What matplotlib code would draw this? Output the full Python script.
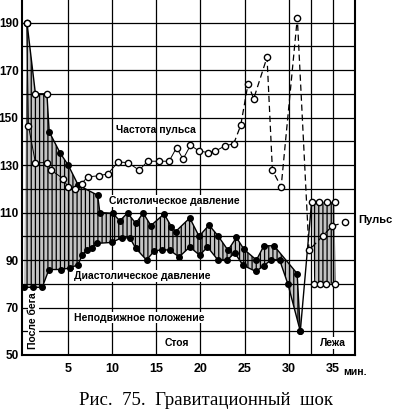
import numpy as np
import matplotlib.pyplot as plt

plt.rcParams['font.family'] = ['Liberation Sans', 'DejaVu Sans']
plt.rcParams['hatch.linewidth'] = 0.9

# Частота пульса (мин, уд/мин)
t_pulse = [0.33, 0.53, 1.32, 2.62, 3.13, 4.43, 5.03, 5.85, 6.55, 7.23, 8.54, 9.52,
           10.69, 11.82, 13.07, 14.02, 15.33, 16.46, 17.3, 18.04, 18.88, 19.82, 20.87,
           21.71, 22.76, 23.78, 24.57, 25.4, 26.04, 27.55, 28.16, 29.15, 30.98, 32.3,
           33.88, 34.94, 36.41]
pulse = [190, 146.5, 131, 131, 127.8, 124.3, 120.6, 119.7, 122.2, 125, 125.5, 126.3,
         131.3, 131, 127.8, 131.6, 131.6, 131.6, 137.3, 132.5, 138.3, 136, 135.2,
         135.9, 138, 139, 146.7, 164.2, 157.9, 175.4, 127.8, 120.8, 192, 94.1,
         100.2, 104.4, 105.8]

# Систолическое давление (стоя)
t_sys = [0.36, 1.32, 2.62, 2.88, 4.13, 5.03, 6.17, 8.36, 8.62, 10.06, 10.88, 11.75,
         12.69, 13.52, 14.4, 15.89, 16.73, 17.2, 18.8, 19.85, 20.98, 22.0, 23.13,
         24.08, 24.94, 26.35, 27.2, 28.34, 30.96, 31.32]
sys_p = [190, 160, 160, 144, 135, 130, 121.5, 117.3, 110, 109.7, 106.5, 109.8,
         105.4, 109.8, 104.5, 109.4, 104, 102, 107.7, 100, 104.7, 100.2, 94.1,
         99.5, 94.5, 90, 96, 96, 84.3, 60]

# Диастолическое давление (стоя)
t_dia = [0.02, 1.04, 2.09, 2.85, 4.17, 5.19, 6.13, 6.62, 7.18, 7.68, 8.28, 9.94,
         11.07, 12.01, 12.69, 13.9, 14.76, 15.71, 16.54, 17.6, 18.8, 19.93, 20.8,
         21.97, 23.04, 23.89, 24.83, 26.27, 27.17, 28.04, 28.98, 29.92, 31.32]
dia_p = [78.5, 78.5, 78.5, 86, 86, 86.6, 88, 92, 94.4, 94.9, 97, 97.4,
         99.3, 99.3, 94.9, 90, 93.7, 94.4, 94.1, 91.3, 95.5, 92, 95.5,
         90.1, 90, 93, 87.8, 85.2, 87.5, 90.2, 90, 79.8, 60]

# Лежа
t_lie_sys = [32.6, 33.4, 34.3, 35.2]
lie_sys = [114.5, 114.5, 114.5, 114.5]
t_lie_dia = [32.9, 33.6, 34.2, 35.3]
lie_dia = [80, 80, 80, 80]

fig = plt.figure(figsize=(3.93, 4.15), dpi=100)
ax = fig.add_axes([0.056, 0.1446, 0.847, 0.8554])

# заштрихованная область между систолическим и диастолическим давлением
ax.fill(np.concatenate([t_sys, t_dia[::-1]]), np.concatenate([sys_p, dia_p[::-1]]),
        facecolor='#c4c4c4', edgecolor='black', hatch='||||', linewidth=0, zorder=1)
ax.fill(np.concatenate([t_lie_sys, t_lie_dia[::-1]]), np.concatenate([lie_sys, lie_dia[::-1]]),
        facecolor='#c4c4c4', edgecolor='black', hatch='||||', linewidth=0, zorder=1)

# давление
ax.plot(t_sys, sys_p, '-', color='black', lw=1, zorder=3)
ax.plot(t_sys[3:], sys_p[3:], 'o', color='black', ms=4, zorder=4)
ax.plot(t_sys[:3], sys_p[:3], 'o', mfc='white', mec='black', ms=4.5, mew=1, zorder=4)
ax.plot(t_dia, dia_p, 'o-', color='black', lw=1, ms=4, zorder=3)
ax.plot([t_sys[-1], t_lie_sys[0]], [sys_p[-1], lie_sys[0]], '-', color='black', lw=1, zorder=3)
ax.plot(t_lie_sys, lie_sys, 'o', mfc='white', mec='black', ms=4.5, mew=1, zorder=4)
ax.plot(t_lie_dia, lie_dia, 'o', mfc='white', mec='black', ms=4.5, mew=1, zorder=4)

# пульс
k = 25
ax.plot(t_pulse[:k + 1], pulse[:k + 1], '-', color='black', lw=0.7, zorder=3)
ax.plot(t_pulse[k:], pulse[k:], '--', color='black', lw=0.9, dashes=(5, 3), zorder=3)
ax.plot(t_pulse, pulse, 'o', mfc='white', mec='black', ms=4.5, mew=1, zorder=5)

# оси и сетка
ax.set_xlim(-0.2, 37.5)
ax.set_ylim(50, 199.5)
ax.set_xticks([5, 10, 15, 20, 25, 30, 35])
ax.set_xticklabels(['5', '10', '15', '20', '25', '30', '35'])
ax.set_xticks([32.5], minor=True)
ax.set_yticks(range(50, 200, 20))
ax.set_yticks(range(60, 200, 20), minor=True)
ax.grid(True, which='both', color='black', lw=0.9)
ax.tick_params(which='both', length=0)
ax.tick_params(axis='x', pad=6, labelsize=9)
ax.tick_params(axis='y', pad=2.5, labelsize=8.5)
for lab in ax.get_xticklabels() + ax.get_yticklabels():
    lab.set_fontweight('bold')
ax.spines['top'].set_visible(False)
for s in ['left', 'bottom', 'right']:
    ax.spines[s].set_linewidth(1.5)

# подписи
fs = 7.5
wb = dict(facecolor='white', edgecolor='none', pad=0.5)
ax.text(15.0, 144.6, 'Частота пульса', ha='center', va='center', fontsize=fs, fontweight='bold')
ax.text(17.1, 114.8, 'Систолическое давление', ha='center', va='center', fontsize=fs,
        fontweight='bold', bbox=wb, zorder=6)
ax.text(13.4, 83.2, 'Диастолическое давление', ha='center', va='center', fontsize=fs,
        fontweight='bold', bbox=wb, zorder=6)
ax.text(13.1, 65.7, 'Неподвижное положение', ha='center', va='center', fontsize=fs,
        fontweight='bold', bbox=wb, zorder=6)
ax.text(17.3, 55.0, 'Стоя', ha='center', va='center', fontsize=fs, fontweight='bold',
        bbox=wb, zorder=6)
ax.text(35.0, 55.0, 'Лежа', ha='center', va='center', fontsize=fs, fontweight='bold',
        bbox=wb, zorder=6)
ax.text(1.1, 64.3, 'После бега', ha='center', va='center', rotation=90, fontsize=fs,
        fontweight='bold', bbox=wb, zorder=6)
ax.text(39.8, 106.7, 'Пульс', ha='center', va='center', fontsize=8,
        fontweight='bold', clip_on=False)
ax.text(36.2, -0.048, 'мин.', transform=ax.get_xaxis_transform(), ha='left', va='center',
        fontsize=7.5, fontweight='bold')

fig.text(0.523, 0.036, 'Рис.  75.  Гравитационный  шок', ha='center', va='center',
         fontsize=13.5, family=['Liberation Serif', 'DejaVu Serif'])

fig.savefig('out.png', dpi=100, facecolor='white')
